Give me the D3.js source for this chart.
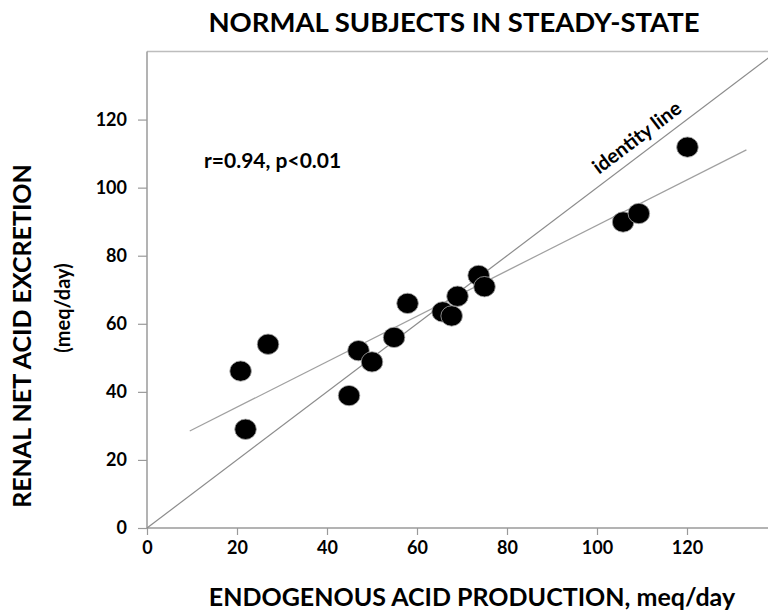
<!DOCTYPE html>
<html><head><meta charset="utf-8">
<script src="https://cdn.jsdelivr.net/npm/d3@7"></script>
<style>body{margin:0;background:#fff;} svg{display:block;} text{font-family:Lato,"Open Sans",sans-serif;font-weight:bold;fill:#000;}</style>
</head><body>
<svg id="chart" width="768" height="613"></svg>
<script>
const production = [20.8, 21.9, 26.9, 44.9, 47.0, 50.0, 54.9, 57.9, 65.7, 67.7, 69.0, 73.7, 75.0, 105.8, 109.3, 120.1];
const excretion  = [46.1, 29.0, 54.0, 38.9, 52.1, 48.8, 56.0, 66.0, 63.5, 62.3, 68.1, 74.2, 70.9, 89.9, 92.4, 111.9];
const xTicks = [0, 20, 40, 60, 80, 100, 120];
const yTicks = [0, 20, 40, 60, 80, 100, 120];
const regression = [[9.5, 28.5], [133.2, 111.1]];
const identity = [[0, 0], [140, 140]];

const svg = d3.select("#chart");
const x = d3.scaleLinear().domain([0, 140]).range([147, 777]);
const y = d3.scaleLinear().domain([0, 140]).range([528, 51.5]);

// top border
svg.append("line").attr("x1", x(0)).attr("x2", 768).attr("y1", y(140)).attr("y2", y(140))
  .attr("stroke", "#bdbdbd").attr("stroke-width", 1.5);

const xAxis = svg.append("g").attr("transform", `translate(0,${y(0)})`)
  .call(d3.axisBottom(x).tickValues(xTicks).tickSize(7).tickPadding(6).tickSizeOuter(0));
const yAxis = svg.append("g").attr("transform", `translate(${x(0)},0)`)
  .call(d3.axisLeft(y).tickValues(yTicks).tickSize(9).tickPadding(11).tickSizeOuter(0));
[xAxis, yAxis].forEach(g => {
  g.select(".domain").attr("stroke", "#9a9a9a").attr("stroke-width", 1.5);
  g.selectAll(".tick line").attr("stroke", "#9a9a9a").attr("stroke-width", 1.2);
  g.selectAll(".tick text").style("font-family", "Lato, sans-serif").style("font-weight", "bold")
    .style("font-size", "18px").attr("fill", "#000");
});
xAxis.select(".domain").attr("d", `M${x(0)},0H768`);
yAxis.select(".domain").attr("d", `M0,${y(0)}V${y(140)}`);

const line = d3.line().x(d => x(d[0])).y(d => y(d[1]));
svg.append("path").attr("d", line(identity)).attr("fill", "none").attr("stroke", "#8c8c8c").attr("stroke-width", 1.2);
svg.append("path").attr("d", line(regression)).attr("fill", "none").attr("stroke", "#a0a0a0").attr("stroke-width", 1.2);

svg.append("g").selectAll("ellipse").data(production.map((p, i) => [p, excretion[i]]))
  .join("ellipse")
  .attr("cx", d => x(d[0])).attr("cy", d => y(d[1]))
  .attr("rx", 10.8).attr("ry", 10.2)
  .attr("fill", "#000").attr("stroke", "#aaa").attr("stroke-width", 0.8);

// identity label
const ang = -Math.atan2(y(0) - y(100), x(100) - x(0)) * 180 / Math.PI;
svg.append("text").attr("transform", `translate(641,143) rotate(${ang})`)
  .attr("text-anchor", "middle").style("font-size", "20px").text("identity line");

svg.append("text").attr("x", 204).attr("y", 168).style("font-size", "21px").text("r=0.94, p<0.01");

svg.append("text").attr("x", 454).attr("y", 32).attr("text-anchor", "middle").style("font-size", "27.5px")
  .text("NORMAL SUBJECTS IN STEADY-STATE");
svg.append("text").attr("x", 472).attr("y", 606).attr("text-anchor", "middle").style("font-size", "25px")
  .text("ENDOGENOUS ACID PRODUCTION, meq/day");
svg.append("text").attr("transform", "translate(31,336) rotate(-90)").attr("text-anchor", "middle").style("font-size", "25px")
  .text("RENAL NET ACID EXCRETION");
svg.append("text").attr("transform", "translate(70,308) rotate(-90)").attr("text-anchor", "middle").style("font-size", "20px")
  .text("(meq/day)");
</script>
</body></html>
